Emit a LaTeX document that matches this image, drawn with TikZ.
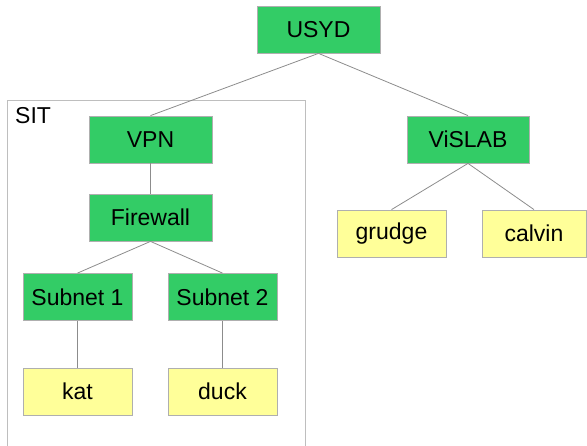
\documentclass[tikz,border=0pt]{standalone}
\usepackage{fontspec}
\setmainfont{Liberation Sans}
\begin{document}
\begin{tikzpicture}[
    x=1pt, y=-1pt,
    every node/.style={font=\fontsize{23}{27}\selectfont},
    site/.style={rectangle, fill=siteGreen, draw=boxGray, line width=0.8pt, minimum height=47pt, inner sep=0pt},
    host/.style={rectangle, fill=hostYellow, draw=boxGray, line width=0.8pt, minimum width=109pt, minimum height=47pt, inner sep=0pt},
    link/.style={draw=linkGray, line width=0.8pt}
]
\definecolor{siteGreen}{RGB}{51,204,102}
\definecolor{hostYellow}{RGB}{255,255,153}
\definecolor{boxGray}{RGB}{175,175,175}
\definecolor{linkGray}{RGB}{140,140,140}
\definecolor{frameGray}{RGB}{190,190,190}

\useasboundingbox (0,0) rectangle (587,446);

% SIT frame
\draw[frameGray, line width=0.8pt] (7,447) -- (7,100) -- (305,100) -- (305,447);
\node[anchor=north west, inner sep=0pt] (sit) at (15,107) {SIT};

\node[site, minimum width=123pt] (usyd) at (318.5,29.5) {USYD};
\node[site, minimum width=123pt] (vpn) at (150.5,139.5) {VPN};
\node[site, minimum width=122pt] (vislab) at (468,139.5) {ViSLAB};
\node[site, minimum width=123pt] (firewall) at (150.5,217.5) {Firewall};
\node[site, minimum width=109pt] (sub1) at (77.5,297) {Subnet 1};
\node[site, minimum width=109pt] (sub2) at (222.5,297) {Subnet 2};

\node[host] (kat) at (77.5,391.5) {kat};
\node[host] (duck) at (222.5,391.5) {duck};
\node[host] (grudge) at (391.5,233.5) {grudge};
\node[host, minimum width=104pt] (calvin) at (534,233.5) {calvin};

\draw[link] (usyd.south) -- (vpn.north);
\draw[link] (usyd.south) -- (vislab.north);
\draw[link] (vpn.south) -- (firewall.north);
\draw[link] (firewall.south) -- (sub1.north);
\draw[link] (firewall.south) -- (sub2.north);
\draw[link] (sub1.south) -- (kat.north);
\draw[link] (sub2.south) -- (duck.north);
\draw[link] (vislab.south) -- (grudge.north);
\draw[link] (vislab.south) -- (calvin.north);

\end{tikzpicture}
\end{document}
